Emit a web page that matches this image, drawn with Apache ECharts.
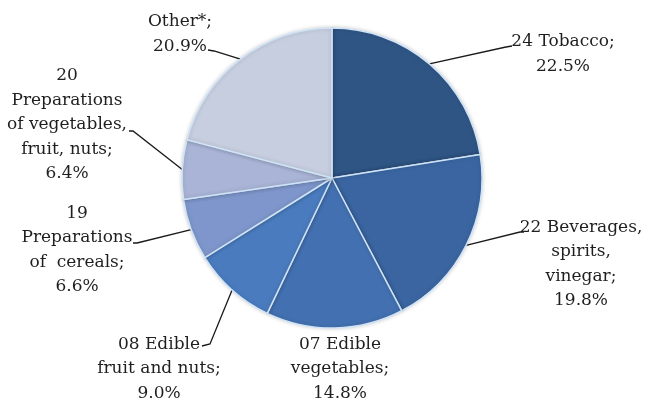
<!DOCTYPE html>
<html>
<head>
<meta charset="utf-8">
<script src="https://cdn.jsdelivr.net/npm/echarts@6/dist/echarts.min.js"></script>
<style>
html,body{margin:0;padding:0;background:#fff;}
#chart{width:646px;height:401px;}
</style>
</head>
<body>
<div id="chart"></div>
<script>
// Data
const categories = [
  "24 Tobacco;",
  "22 Beverages,\nspirits,\nvinegar;",
  "07 Edible\nvegetables;",
  "08 Edible\nfruit and nuts;",
  "19\nPreparations\nof  cereals;",
  "20\nPreparations\nof vegetables,\nfruit, nuts;",
  "Other*;"
];
const shares = [22.5, 19.8, 14.8, 9.0, 6.6, 6.4, 20.9];
const percentLabels = ["22.5%", "19.8%", "14.8%", "9.0%", "6.6%", "6.4%", "20.9%"];

// Styles / layout (not data)
const colors = ["#2F5585", "#3A65A0", "#4370B0", "#4A7BBE", "#7E96CB", "#A9B4D6", "#C6CEDF"];
// label block centers and leader line end points (layout only)
const labelCenters = [[563, 54], [581, 264], [340, 369], [159, 369], [77, 250], [67, 125], [180, 34]];
const leaderEnds = [
  [[506, 47], [512, 46]],
  [[520, 232], [524, 232]],
  null,
  [[210, 344], [202, 346]],
  [[137, 243], [133, 243]],
  [[133, 131], [129, 131]],
  [[214, 51], [208, 50]]
];

const chart = echarts.init(document.getElementById('chart'), null, {renderer: 'canvas'});
const data = categories.map((c, i) => ({
  name: c,
  value: shares[i],
  itemStyle: {color: colors[i]},
  label: {formatter: c + "\n" + percentLabels[i]}
}));

chart.setOption({
  animation: false,
  series: [{
    type: 'pie',
    center: [332, 178],
    radius: [0, 150],
    startAngle: 90,
    clockwise: true,
    bleedMargin: 0,
    data: data,
    itemStyle: {
      borderColor: '#CFE3F7',
      borderWidth: 1.5,
      shadowBlur: 4,
      shadowColor: 'rgba(0,0,0,0.18)'
    },
    label: {
      show: true,
      position: 'outside',
      overflow: 'none',
      fontFamily: 'DejaVu Serif',
      fontSize: 17,
      lineHeight: 24.5,
      color: '#1f1f1f',
      align: 'center'
    },
    labelLine: {
      show: true,
      lineStyle: {color: '#1a1a1a', width: 1.3}
    },
    labelLayout: function (p) {
      const i = p.dataIndex;
      const c = labelCenters[i];
      const out = {x: c[0], y: c[1], align: 'center', verticalAlign: 'middle', width: 200};
      const pts = p.labelLinePoints;
      if (leaderEnds[i] && pts) {
        const s = pts[0];
        out.labelLinePoints = [[s[0], s[1]], leaderEnds[i][0], leaderEnds[i][1]];
      } else {
        out.labelLinePoints = [[0,0],[0,0],[0,0]];
      }
      return out;
    }
  }]
});
</script>
</body>
</html>
